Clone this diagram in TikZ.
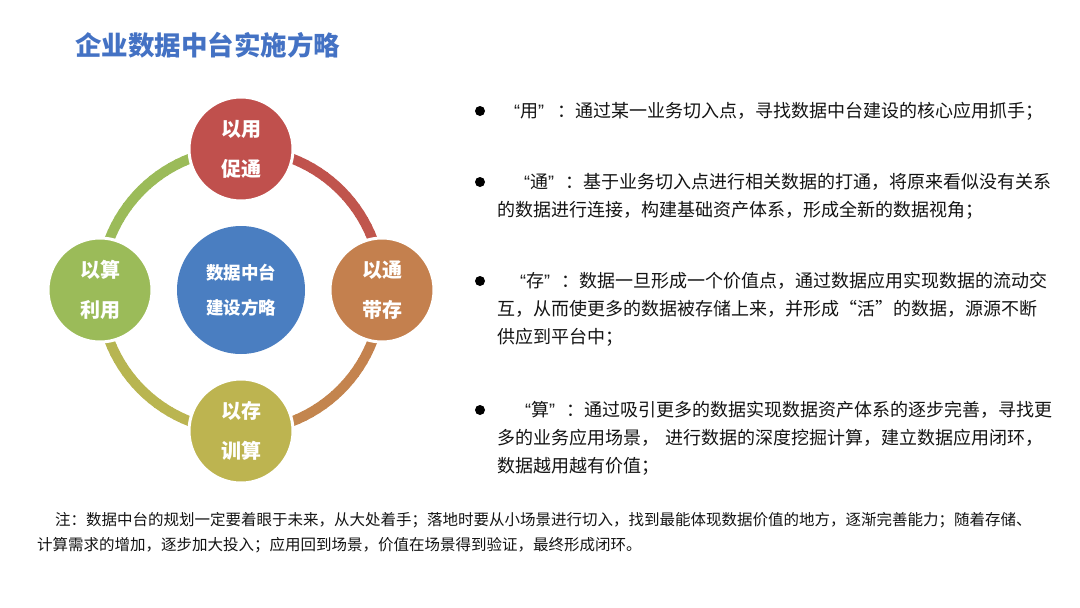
\documentclass[tikz,border=0pt]{standalone}
\usepackage{fontspec}
\setmainfont{Noto Sans CJK SC}
\newfontfamily\latq{Liberation Sans}
\usetikzlibrary{calc}
\definecolor{cred}{RGB}{192,80,77}
\definecolor{corange}{RGB}{196,128,78}
\definecolor{colive}{RGB}{189,180,80}
\definecolor{cgreen}{RGB}{155,187,89}
\definecolor{cblue}{RGB}{74,126,193}
\definecolor{ctitle}{RGB}{68,114,196}
\definecolor{ctext}{RGB}{20,20,20}
\newcommand{\myLQ}{{\latq “}}
\newcommand{\myRQ}{{\latq ”}}
\begin{document}
\begin{tikzpicture}[x=1pt,y=-1pt,
  sat/.style={circle, minimum size=104pt, inner sep=0pt, draw=white, line width=3pt, text=white, align=center, font=\fontsize{20}{40}\selectfont\bfseries},
  hub/.style={circle, minimum size=128pt, inner sep=0pt, fill=cblue, text=white, align=center, font=\fontsize{17.5}{35}\selectfont\bfseries},
  txt/.style={anchor=west, inner sep=0pt, text=ctext, font=\fontsize{18}{28}\selectfont},
  notetxt/.style={anchor=west, inner sep=0pt, text=ctext, font=\fontsize{15.5}{25}\selectfont},
  bul/.style={circle, fill=black, minimum size=10pt, inner sep=0pt}]
\fill[white] (0,0) rectangle (1080,608);
\useasboundingbox (0,0) rectangle (1080,608);
\coordinate (ring) at (241,290);
\foreach \s/\ca/\cb/\k in {-90/cred/corange/0.6, 0/corange/colive/0.5, 90/colive/cgreen/0.9, 180/cgreen/cred/0}{
  \foreach \i in {0,...,29}{
    \pgfmathsetmacro\a{\s+3*\i}
    \pgfmathsetmacro\b{\a+3.6}
    \pgfmathsetmacro\p{100-\k*\i}
    \draw[line width=10pt, draw=\ca!\p!\cb] ($(ring)+(\a:141)$) -- ($(ring)+(\b:141)$);
  }
}
\node[sat, fill=cred] (yong) at ($(ring)+(-90:141)$) {以用\\促通};
\node[sat, fill=corange] (tong) at ($(ring)+(0:141)$) {以通\\带存};
\node[sat, fill=colive] (cun) at ($(ring)+(90:141)$) {以存\\训算};
\node[sat, fill=cgreen] (suan) at ($(ring)+(180:141)$) {以算\\利用};
\node[hub] (hub) at (ring) {数据中台\\建设方略};

\node[anchor=west, inner sep=0pt, text=ctitle, font=\fontsize{26.5}{30}\selectfont\bfseries] (title) at (75,45) {企业数据中台实施方略};

\node[bul] (d1) at (480,111) {};
\node[txt] (t1) at (514,111) {\myLQ 用\myRQ\hspace{13pt}：通过某一业务切入点，寻找数据中台建设的核心应用抓手；};
\node[bul] (d2) at (480,182) {};
\node[txt] (t2a) at (524,182) {\myLQ 通\myRQ\hspace{11pt}：基于业务切入点进行相关数据的打通，将原来看似没有关系};
\node[txt] (t2b) at (497,210) {的数据进行连接，构建基础资产体系，形成全新的数据视角；};
\node[bul] (d3) at (480,281) {};
\node[txt] (t3a) at (520,281) {\myLQ 存\myRQ\hspace{11pt}：数据一旦形成一个价值点，通过数据应用实现数据的流动交};
\node[txt] (t3b) at (497,309) {互，从而使更多的数据被存储上来，并形成“活”的数据，源源不断};
\node[txt] (t3c) at (497,337) {供应到平台中；};
\node[bul] (d4) at (480,410) {};
\node[txt] (t4a) at (525,410) {\myLQ 算\myRQ\hspace{11pt}：通过吸引更多的数据实现数据资产体系的逐步完善，寻找更};
\node[txt] (t4b) at (497,438) {多的业务应用场景，\hspace{6pt}进行数据的深度挖掘计算，建立数据应用闭环，};
\node[txt] (t4c) at (497,466) {数据越用越有价值；};

\node[notetxt] (n1) at (55,520) {注：数据中台的规划一定要着眼于未来，从大处着手；落地时要从小场景进行切入，找到最能体现数据价值的地方，逐渐完善能力；随着存储、};
\node[notetxt] (n2) at (37,545) {计算需求的增加，逐步加大投入；应用回到场景，价值在场景得到验证，最终形成闭环。};
\end{tikzpicture}
\end{document}
